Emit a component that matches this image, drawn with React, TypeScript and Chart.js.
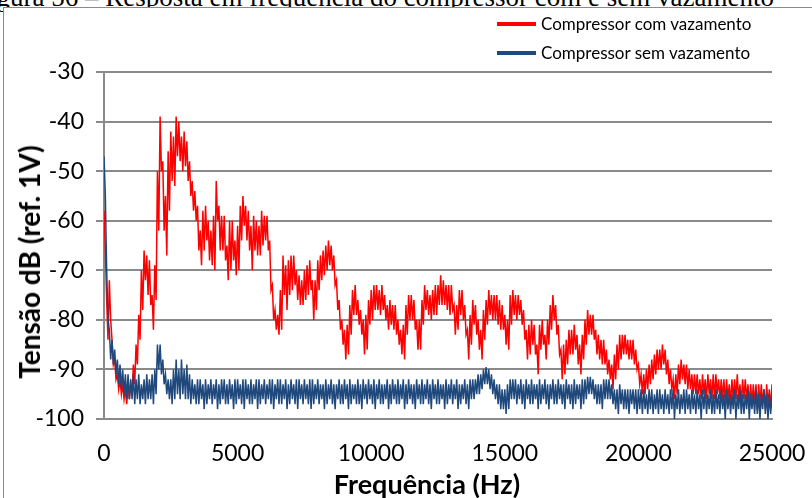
import React, { useEffect, useRef } from "react";
import { Chart, registerables } from "chart.js";

Chart.register(...registerables);

// Spectrum bins: every 100 Hz, upper and lower edge of the noisy trace
const FREQ_STEP_HZ = 100;

const SERIES_NAMES = ["Compressor com vazamento", "Compressor sem vazamento"];

// Compressor com vazamento – upper edge (dB)
const RED_HI = [
  -58, -76, -72, -84, -88, -91, -92, -93, -94, -93,
  -93, -89, -85, -79, -70, -66, -67, -68, -75, -69,
  -50, -39, -48, -55, -46, -42, -43, -39, -40, -43,
  -42, -44, -48, -52, -54, -57, -62, -58, -57, -60,
  -62, -59, -52, -57, -59, -59, -65, -60, -60, -64,
  -61, -57, -55, -57, -58, -61, -59, -60, -61, -58,
  -59, -59, -64, -73, -78, -79, -74, -67, -69, -68,
  -67, -67, -70, -71, -72, -70, -69, -68, -72, -72,
  -68, -67, -66, -65, -64, -65, -67, -72, -76, -80,
  -82, -81, -77, -74, -73, -76, -78, -80, -79, -76,
  -74, -73, -73, -74, -73, -75, -77, -76, -77, -77,
  -80, -82, -81, -77, -75, -75, -76, -80, -80, -76,
  -73, -74, -75, -74, -73, -73, -71, -72, -73, -73,
  -73, -77, -77, -74, -74, -77, -82, -79, -76, -77,
  -80, -82, -78, -76, -74, -75, -75, -75, -76, -77,
  -79, -80, -75, -74, -75, -75, -76, -78, -82, -81,
  -80, -81, -85, -81, -80, -83, -80, -77, -75, -77,
  -81, -86, -85, -84, -82, -82, -81, -83, -85, -83,
  -80, -78, -79, -79, -82, -83, -84, -84, -86, -88,
  -89, -87, -85, -83, -83, -83, -84, -84, -84, -86,
  -89, -91, -91, -90, -89, -88, -87, -86, -86, -85,
  -86, -88, -90, -92, -91, -89, -88, -89, -89, -90,
  -91, -91, -91, -92, -91, -92, -91, -92, -91, -91,
  -92, -92, -92, -92, -93, -92, -92, -91, -93, -92,
  -92, -93, -93, -93, -93, -93, -93, -94, -93, -94,
  -93,
];

// Compressor com vazamento – lower edge (dB)
const RED_LO = [
  -66, -84, -80, -89, -92, -94, -95, -96, -97, -96,
  -95, -93, -89, -84, -78, -72, -75, -77, -82, -76,
  -62, -50, -62, -67, -58, -52, -53, -47, -48, -50,
  -49, -52, -55, -58, -60, -66, -69, -66, -64, -68,
  -69, -70, -60, -66, -66, -68, -72, -70, -68, -71,
  -70, -64, -61, -64, -66, -70, -66, -67, -67, -65,
  -64, -66, -74, -80, -82, -83, -82, -75, -78, -75,
  -74, -73, -76, -77, -77, -76, -75, -74, -80, -78,
  -74, -72, -71, -70, -69, -70, -73, -78, -82, -85,
  -88, -87, -83, -79, -79, -81, -83, -87, -86, -81,
  -80, -78, -78, -79, -78, -80, -82, -81, -82, -83,
  -85, -87, -88, -83, -80, -80, -82, -86, -86, -81,
  -78, -79, -80, -79, -79, -77, -77, -77, -78, -79,
  -78, -83, -82, -79, -80, -83, -88, -85, -81, -83,
  -86, -88, -84, -81, -79, -80, -80, -81, -82, -82,
  -85, -86, -81, -79, -80, -79, -81, -84, -88, -87,
  -85, -87, -91, -86, -85, -88, -85, -82, -80, -83,
  -87, -92, -91, -89, -87, -87, -86, -89, -91, -88,
  -85, -83, -83, -84, -87, -88, -89, -89, -91, -92,
  -94, -92, -90, -88, -87, -87, -88, -88, -89, -90,
  -93, -95, -95, -94, -93, -92, -91, -90, -90, -89,
  -91, -93, -94, -96, -95, -93, -92, -93, -94, -94,
  -95, -95, -95, -96, -95, -96, -95, -96, -96, -95,
  -96, -96, -97, -96, -97, -96, -96, -96, -97, -96,
  -96, -97, -97, -97, -98, -97, -97, -98, -97, -98,
  -97,
];

// Compressor sem vazamento – upper edge (dB)
const BLUE_HI = [
  -47, -70, -82, -84, -86, -88, -89, -90, -91, -91,
  -92, -91, -92, -91, -93, -92, -91, -92, -91, -90,
  -85, -85, -88, -91, -92, -92, -90, -88, -90, -88,
  -90, -89, -91, -92, -93, -92, -92, -93, -92, -93,
  -92, -93, -92, -93, -92, -92, -93, -92, -93, -92,
  -92, -93, -92, -92, -93, -92, -93, -92, -92, -93,
  -92, -93, -92, -92, -93, -92, -92, -93, -92, -93,
  -92, -93, -92, -92, -93, -92, -93, -92, -92, -93,
  -92, -93, -93, -92, -93, -92, -93, -93, -92, -93,
  -92, -93, -92, -93, -93, -92, -93, -92, -93, -92,
  -93, -92, -93, -92, -93, -93, -92, -93, -92, -93,
  -92, -93, -92, -93, -92, -93, -93, -92, -93, -92,
  -93, -92, -93, -92, -93, -92, -93, -93, -92, -93,
  -92, -93, -92, -93, -93, -92, -93, -92, -92, -92,
  -91, -91, -90, -89.5, -90, -91, -92, -93, -93, -94,
  -94, -93, -92, -92, -92, -93, -92, -93, -92, -93,
  -92, -93, -93, -92, -93, -92, -93, -93, -92, -93,
  -92, -93, -93, -92, -93, -93, -92, -93, -93, -92,
  -92, -91.5, -91.5, -92, -93, -93, -93, -92, -92, -92,
  -93, -94, -94, -93, -94, -94, -94, -94, -94, -94,
  -94, -94, -94, -95, -94, -94, -95, -94, -94, -95,
  -94, -95, -94, -94, -95, -94, -95, -94, -94, -95,
  -94, -95, -94, -95, -94, -94, -95, -94, -95, -94,
  -95, -94, -95, -94, -95, -95, -94, -95, -94, -95,
  -95, -94, -95, -95, -94, -95, -95, -94, -95, -95,
  -95,
];

// Compressor sem vazamento – lower edge (dB)
const BLUE_LO = [
  -55, -80, -88, -89, -91, -93, -94, -95, -96, -96,
  -96, -97, -96, -97, -96, -97, -96, -96, -97, -95,
  -90, -91, -93, -95, -96, -97, -96, -95, -96, -95,
  -96, -96, -97, -96, -97, -97, -96, -98, -97, -96,
  -97, -96, -98, -97, -96, -97, -97, -96, -98, -97,
  -96, -97, -98, -96, -97, -97, -96, -98, -97, -96,
  -97, -96, -97, -98, -96, -97, -97, -96, -98, -97,
  -96, -97, -98, -96, -97, -96, -97, -98, -97, -96,
  -97, -96, -98, -97, -96, -97, -98, -96, -97, -97,
  -96, -98, -97, -96, -97, -97, -98, -96, -97, -96,
  -97, -98, -96, -97, -97, -96, -98, -97, -96, -97,
  -97, -96, -98, -97, -96, -97, -98, -96, -97, -97,
  -96, -97, -98, -96, -97, -97, -96, -98, -97, -96,
  -97, -96, -98, -97, -96, -97, -98, -96, -96, -95,
  -95, -94, -93, -93, -94, -95, -96, -97, -98, -98,
  -99, -98, -96, -96, -97, -96, -97, -98, -96, -97,
  -97, -96, -98, -97, -96, -97, -98, -96, -97, -97,
  -96, -97, -98, -96, -97, -98, -97, -96, -98, -97,
  -96, -95, -95, -96, -97, -97, -98, -96, -96, -96,
  -97, -98, -99, -97, -98, -98, -99, -97, -98, -99,
  -98, -99, -98, -99, -98, -99, -98, -99, -98, -99,
  -98, -99, -98, -100, -98, -99, -98, -99, -98, -99,
  -98, -99, -98, -100, -98, -99, -98, -99, -99, -98,
  -99, -98, -100, -98, -99, -98, -100, -98, -99, -99,
  -98, -100, -98, -99, -99, -100, -98, -99, -100, -99,
  -99,
];

const X_MIN = 0;
const X_MAX = 25000;
const X_STEP = 5000;
const Y_MIN = -100;
const Y_MAX = -30;
const Y_STEP = 10;

const TITLE_TEXT = "Figura 56 – Resposta em frequência do compressor com e sem vazamento";
const X_TITLE = "Frequência (Hz)";
const Y_TITLE = "Tensão dB (ref. 1V)";

const RED_COLOR = "#FF0000";
const BLUE_COLOR = "#1F497D";
const GRID_COLOR = "#8A8A8A";
const FONT = "Lato, 'Open Sans', sans-serif";

function bandPoints(hi: number[], lo: number[]) {
  const pts: { x: number; y: number }[] = [];
  hi.forEach((h, i) => {
    pts.push({ x: i * FREQ_STEP_HZ, y: h });
    pts.push({ x: i * FREQ_STEP_HZ + FREQ_STEP_HZ / 2, y: lo[i] });
  });
  return pts;
}

export default function App() {
  const canvasRef = useRef<HTMLCanvasElement | null>(null);

  useEffect(() => {
    const canvas = canvasRef.current;
    if (!canvas) return;
    const chart = new Chart(canvas, {
      type: "line",
      data: {
        datasets: [
          {
            label: SERIES_NAMES[0],
            data: bandPoints(RED_HI, RED_LO),
            borderColor: RED_COLOR,
            borderWidth: 1.5,
            pointRadius: 0,
            tension: 0,
            order: 2,
          },
          {
            label: SERIES_NAMES[1],
            data: bandPoints(BLUE_HI, BLUE_LO),
            borderColor: BLUE_COLOR,
            borderWidth: 1.5,
            pointRadius: 0,
            tension: 0,
            order: 1,
          },
        ],
      },
      options: {
        responsive: false,
        animation: false,
        devicePixelRatio: 1,
        layout: { padding: { left: 0, top: 72, right: 40, bottom: 0 } },
        plugins: { legend: { display: false }, tooltip: { enabled: false } },
        scales: {
          x: {
            type: "linear",
            min: X_MIN,
            max: X_MAX,
            ticks: {
              stepSize: X_STEP,
              color: "#000",
              font: { family: FONT, size: 23 },
              padding: 4,
              maxRotation: 0,
              callback: (v: any) => String(v),
            },
            grid: { display: false, drawTicks: true, tickLength: 17 },
            border: { display: true, color: GRID_COLOR, width: 2 },
            afterFit: (s: any) => {
              s.height = 79;
            },
          },
          y: {
            type: "linear",
            min: Y_MIN,
            max: Y_MAX,
            ticks: {
              stepSize: Y_STEP,
              color: "#000",
              font: { family: FONT, size: 23 },
              padding: 12,
              callback: (v: any) => String(v),
            },
            grid: {
              color: GRID_COLOR,
              lineWidth: 2,
              tickLength: 8,
              tickColor: GRID_COLOR,
            },
            border: { display: true, color: GRID_COLOR, width: 2 },
            afterFit: (s: any) => {
              s.width = 104;
            },
          },
        },
      },
    });
    return () => chart.destroy();
  }, []);

  const legendText = {
    position: "absolute" as const,
    left: 541,
    fontFamily: FONT,
    fontSize: 17,
    lineHeight: "20px",
    whiteSpace: "nowrap" as const,
    color: "#000",
  };

  return (
    <div
      style={{
        position: "fixed",
        left: 0,
        top: 0,
        width: 812,
        height: 498,
        overflow: "hidden",
        background: "#fff",
      }}
    >
      <div
        style={{
          position: "absolute",
          left: -26,
          top: -16,
          whiteSpace: "nowrap",
          fontFamily: "'Liberation Serif', serif",
          fontSize: 27,
          lineHeight: "27px",
          color: "#000",
        }}
      >
        {TITLE_TEXT}
      </div>
      <div
        style={{
          position: "absolute",
          left: 3,
          top: 7,
          width: 900,
          height: 600,
          border: "1px solid #8A8A8A",
          background: "#fff",
        }}
      />
      <canvas
        ref={canvasRef}
        width={812}
        height={498}
        style={{ position: "absolute", left: 0, top: 0, width: 812, height: 498 }}
      />
      {/* legend */}
      <div style={{ position: "absolute", left: 497, top: 22, width: 39, height: 4, background: RED_COLOR }} />
      <div style={{ ...legendText, top: 14 }}>{SERIES_NAMES[0]}</div>
      <div style={{ position: "absolute", left: 497, top: 51, width: 39, height: 4, background: BLUE_COLOR }} />
      <div style={{ ...legendText, top: 43 }}>{SERIES_NAMES[1]}</div>
      {/* axis titles */}
      <div
        style={{
          position: "absolute",
          left: 29,
          top: 262,
          transform: "translate(-50%, -50%) rotate(-90deg)",
          fontFamily: FONT,
          fontWeight: 700,
          fontSize: 28,
          whiteSpace: "nowrap",
          color: "#000",
        }}
      >
        {Y_TITLE}
      </div>
      <div
        style={{
          position: "absolute",
          left: 427,
          top: 483,
          transform: "translate(-50%, -50%)",
          fontFamily: FONT,
          fontWeight: 700,
          fontSize: 27,
          whiteSpace: "nowrap",
          color: "#000",
        }}
      >
        {X_TITLE}
      </div>
    </div>
  );
}
